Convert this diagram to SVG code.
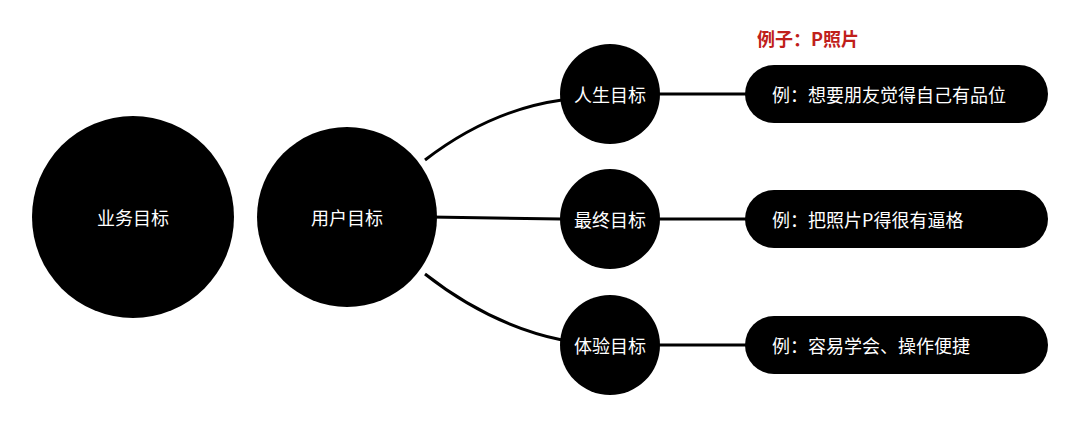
<svg xmlns="http://www.w3.org/2000/svg" width="1080" height="443" viewBox="0 0 1080 443">
<style>
.n{fill:#000}
.t{fill:#fff;font-family:"Noto Sans CJK SC","Noto Sans",sans-serif;font-size:18px;text-anchor:middle;dominant-baseline:central}
.p{fill:#fff;font-family:"Noto Sans CJK SC","Noto Sans",sans-serif;font-size:18px;dominant-baseline:central}
.c{stroke:#000;stroke-width:3;fill:none}
</style>
<rect width="1080" height="443" fill="#fff"/>
<text x="757" y="38" fill="#c0201a" font-family="'Noto Sans CJK SC',sans-serif" font-size="18" font-weight="bold" dominant-baseline="central">例子：P照片</text>
<g id="connectors">
<path class="c" d="M425,160 Q490,110 562,100"/>
<path class="c" d="M430,217 L561,219"/>
<path class="c" d="M425,274 Q490,325 562,340"/>
<path class="c" d="M655,94 H750"/>
<path class="c" d="M655,219 H750"/>
<path class="c" d="M655,345 H750"/>
</g>
<g id="n1"><circle class="n" cx="133" cy="217" r="101"/><text class="t" x="133" y="217">业务目标</text></g>
<g id="n2"><circle class="n" cx="347" cy="217" r="90"/><text class="t" x="347" y="217">用户目标</text></g>
<g id="n3"><circle class="n" cx="610" cy="94" r="50"/><text class="t" x="610" y="94">人生目标</text></g>
<g id="n4"><circle class="n" cx="610" cy="219" r="50"/><text class="t" x="610" y="219">最终目标</text></g>
<g id="n5"><circle class="n" cx="610" cy="345" r="50"/><text class="t" x="610" y="345">体验目标</text></g>
<g id="p1"><rect class="n" x="745" y="65" width="303" height="58" rx="29"/><text class="p" x="772" y="94">例：想要朋友觉得自己有品位</text></g>
<g id="p2"><rect class="n" x="745" y="190" width="303" height="58" rx="29"/><text class="p" x="772" y="219">例：把照片P得很有逼格</text></g>
<g id="p3"><rect class="n" x="745" y="316" width="303" height="58" rx="29"/><text class="p" x="772" y="345">例：容易学会、操作便捷</text></g>
</svg>
